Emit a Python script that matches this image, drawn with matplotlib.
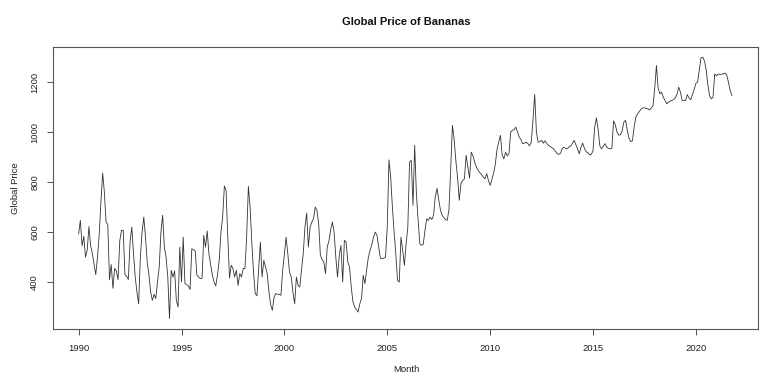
import numpy as np
import matplotlib.pyplot as plt

plt.rcParams['font.family'] = ['Liberation Sans', 'DejaVu Sans']

# monthly global price of bananas, Jan 1990 .. Oct 2021
start_year = 1990
prices_1990s = [
    593, 647, 545, 583, 500, 527, 622, 545, 515, 470, 430, 500,
    590, 720, 836, 760, 640, 630, 410, 470, 375, 455, 444, 410,
    565, 607, 607, 430, 423, 410, 560, 620, 515, 420, 360, 313,
    500, 600, 660, 580, 480, 430, 360, 327, 351, 334, 400, 460,
    600, 667, 540, 500, 420, 254, 447, 420, 444, 327, 300, 540,
    400, 580, 394, 390, 385, 370, 533, 530, 524, 427, 420, 414,
    415, 587, 540, 604, 513, 470, 427, 400, 385, 430, 487, 600,
    660, 784, 767, 580, 416, 467, 454, 420, 447, 387, 434, 420,
    454, 454, 580, 783, 700, 560, 440, 354, 345, 450, 560, 420,
    487, 460, 434, 360, 310, 287, 340, 354, 351, 351, 347, 447,
]
prices_2000s = [
    510, 580, 513, 440, 420, 360, 313, 420, 387, 380, 450, 513,
    620, 676, 540, 620, 640, 653, 700, 687, 634, 507, 490, 480,
    434, 540, 565, 610, 640, 600, 500, 420, 505, 547, 400, 567,
    560, 480, 460, 380, 320, 300, 290, 280, 313, 334, 427, 394,
    450, 500, 527, 550, 580, 600, 587, 540, 495, 494, 496, 500,
    620, 889, 820, 700, 600, 513, 407, 400, 580, 527, 467, 553,
    620, 880, 887, 707, 947, 753, 647, 553, 547, 551, 607, 653,
    647, 660, 650, 667, 740, 775, 730, 690, 667, 658, 650, 647,
    690, 850, 1027, 973, 887, 820, 727, 794, 807, 813, 907, 860,
    816, 920, 905, 880, 860, 847, 838, 830, 820, 813, 834, 807,
]
prices_2010s = [
    787, 810, 835, 870, 930, 960, 987, 910, 893, 920, 905, 915,
    1000, 1007, 1010, 1020, 1000, 980, 970, 955, 955, 960, 954, 945,
    960, 1050, 1151, 1000, 960, 962, 967, 956, 965, 955, 947, 943,
    938, 933, 924, 915, 911, 915, 933, 940, 935, 933, 940, 945,
    955, 967, 950, 933, 913, 940, 956, 935, 922, 918, 909, 911,
    925, 1020, 1057, 1010, 945, 933, 943, 954, 940, 935, 933, 935,
    1045, 1030, 1000, 988, 990, 1005, 1040, 1047, 1007, 975, 962, 965,
    1020, 1060, 1073, 1082, 1092, 1097, 1097, 1095, 1093, 1089, 1097, 1105,
    1175, 1267, 1175, 1153, 1160, 1140, 1127, 1113, 1120, 1124, 1127, 1130,
    1137, 1151, 1180, 1160, 1127, 1127, 1127, 1150, 1137, 1130, 1150, 1170,
]
prices_2020s = [
    1195, 1200, 1250, 1297, 1300, 1285, 1250, 1190, 1145, 1133, 1140, 1233,
    1225, 1233, 1230, 1232, 1233, 1236, 1228, 1200, 1167, 1147,
]
x_ticks = [1990, 1995, 2000, 2005, 2010, 2015, 2020]
y_ticks = [400, 600, 800, 1000, 1200]

price = np.array(prices_1990s + prices_2000s + prices_2010s + prices_2020s)
month = start_year + np.arange(len(price)) / 12.0

fig = plt.figure(figsize=(7.83, 3.83), dpi=100)
ax = fig.add_axes([52.5/783, 1 - 329/383, (758 - 52.5)/783, (329 - 46.7)/383])

ax.plot(month, price, color='#333333', lw=0.6)

# R style 4% padding
xr = month.max() - month.min()
ax.set_xlim(month.min() - 0.04*xr, month.max() + 0.04*xr)
yr = price.max() - price.min()
ax.set_ylim(price.min() - 0.04*yr, price.max() + 0.04*yr)

ax.set_xticks(x_ticks)
ax.set_yticks(y_ticks)
ax.tick_params(direction='out', length=4.5, width=0.6, color='#333333',
               labelsize=6.8, labelcolor='#222222', pad=6)
ax.tick_params(axis='y', labelrotation=90, pad=5)
for lab in ax.get_yticklabels():
    lab.set_va('center')
for s in ax.spines.values():
    s.set_color('#555555')
    s.set_linewidth(0.8)

fig.text(406/783, 1 - 22/383, 'Global Price of Bananas', ha='center', va='center',
         fontsize=8, fontweight='bold', color='#111111')
fig.text(406/783, 1 - 369/383, 'Month', ha='center', va='center',
         fontsize=6.8, color='#222222')
fig.text(16/783, 1 - 188/383, 'Global Price', ha='center', va='center',
         rotation=90, fontsize=6.8, color='#222222')

fig.savefig('out.png', dpi=100)
